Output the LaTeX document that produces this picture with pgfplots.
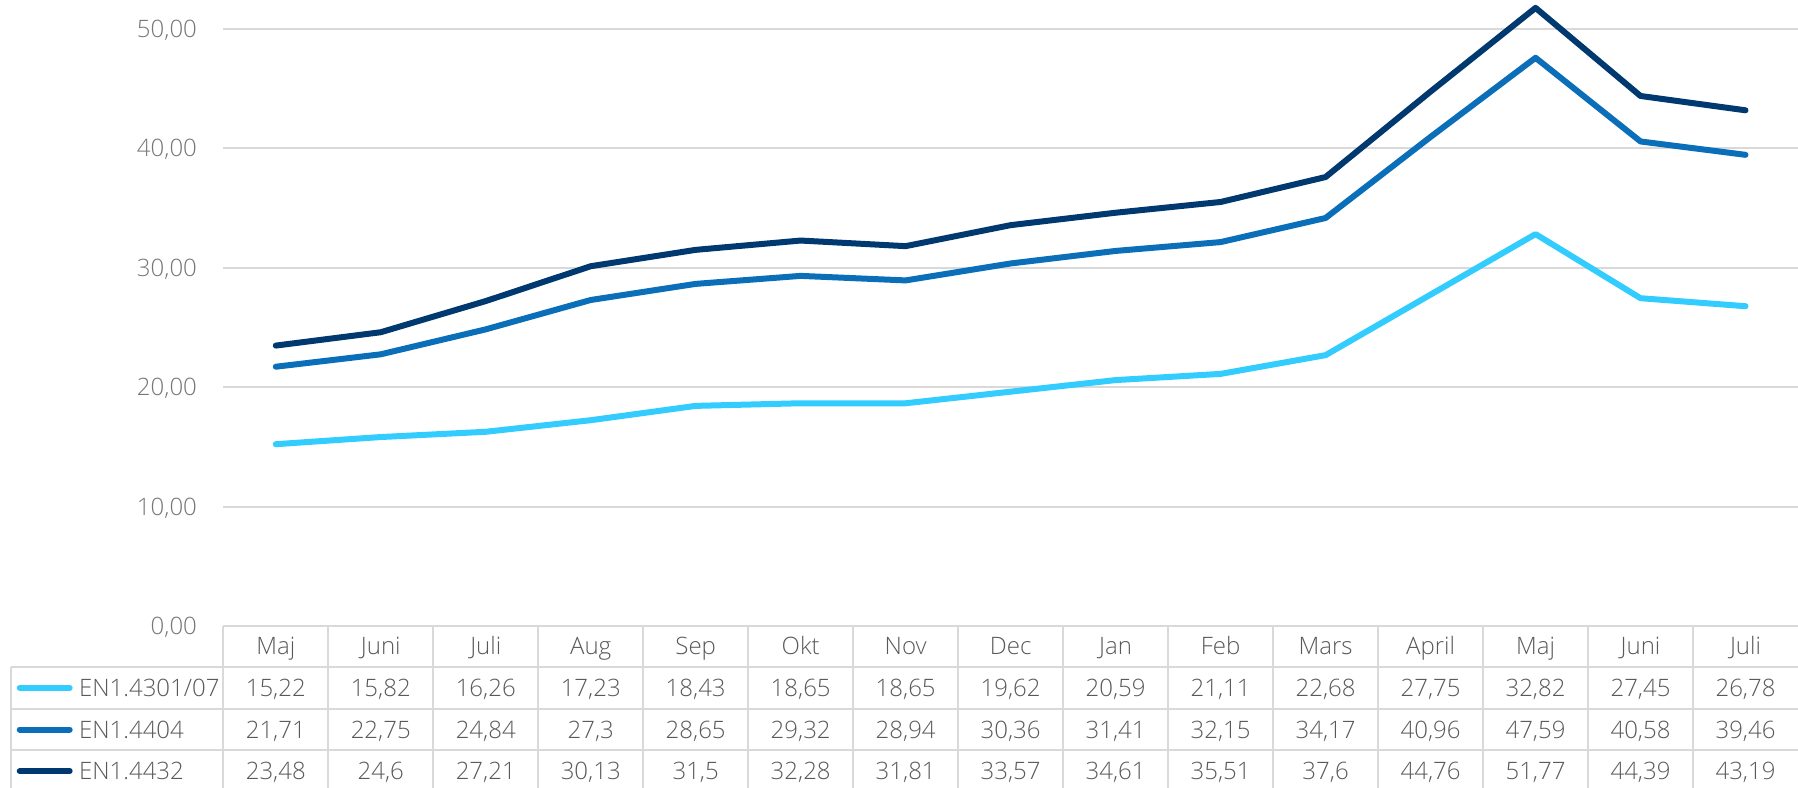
\documentclass[border=0pt]{standalone}
\usepackage{fontspec}
\setmainfont{Open Sans Light}
\usepackage{pgfplots}
\usepackage{pgfplotstable}
\pgfplotsset{compat=1.18}
\definecolor{cA}{HTML}{33CCFF}
\definecolor{cB}{HTML}{0A6EB9}
\definecolor{cC}{HTML}{003870}
\definecolor{gridc}{HTML}{D9D9D9}
\definecolor{txt}{HTML}{595959}
\definecolor{tickc}{HTML}{767676}
\pgfplotstableread{
x a b c
0 15.22 21.71 23.48
1 15.82 22.75 24.6
2 16.26 24.84 27.21
3 17.23 27.3 30.13
4 18.43 28.65 31.5
5 18.65 29.32 32.28
6 18.65 28.94 31.81
7 19.62 30.36 33.57
8 20.59 31.41 34.61
9 21.11 32.15 35.51
10 22.68 34.17 37.6
11 27.75 40.96 44.76
12 32.82 47.59 51.77
13 27.45 40.58 44.39
14 26.78 39.46 43.19
}\data
\tikzset{tbl/.style={inner sep=0pt, text height=8.57pt, text depth=0pt, font=\fontsize{12}{14}\selectfont}}
\begin{document}
\begin{tikzpicture}
\begin{axis}[
  x=52.5pt, y=5.97pt,
  xmin=-0.5, xmax=14.5, ymin=0, ymax=52.43,
  clip=false,
  axis line style={draw=none},
  tick style={draw=none},
  ytick={0,10,...,50},
  ymajorgrids, grid style={gridc, line width=1pt},
  xtick={0,...,14},
  xticklabels={Maj,Juni,Juli,Aug,Sep,Okt,Nov,Dec,Jan,Feb,Mars,April,Maj,Juni,Juli},
  xticklabel style={tbl, anchor=center, yshift=-10.15pt, text=txt},
  yticklabel style={tbl, anchor=east, xshift=-13pt, text=tickc,
    /pgf/number format/.cd, fixed, fixed zerofill, precision=2, use comma, assume math mode=true},
  every node near coord/.append style={tbl, anchor=center, text=txt,
    /pgf/number format/.cd, fixed, precision=2, use comma, assume math mode=true},
  nodes near coords align={center},
]
\addplot[cA, line width=3pt, line cap=round, line join=round] table[x=x, y=a]{\data};
\addplot[cB, line width=3pt, line cap=round, line join=round] table[x=x, y=b]{\data};
\addplot[cC, line width=3pt, line cap=round, line join=round] table[x=x, y=c]{\data};
% data table rows
\addplot[draw=none, mark=none, nodes near coords, point meta=explicit] table[x=x, y expr=-5.19, meta=a]{\data};
\addplot[draw=none, mark=none, nodes near coords, point meta=explicit] table[x=x, y expr=-8.68, meta=b]{\data};
\addplot[draw=none, mark=none, nodes near coords, point meta=explicit] table[x=x, y expr=-12.17, meta=c]{\data};
% table grid
\draw[gridc, line width=1pt] (axis cs:-2.522,-3.45) -- (axis cs:14.5,-3.45);
\draw[gridc, line width=1pt] (axis cs:-2.522,-6.94) -- (axis cs:14.5,-6.94);
\draw[gridc, line width=1pt] (axis cs:-2.522,-10.43) -- (axis cs:14.5,-10.43);
\draw[gridc, line width=1pt] (axis cs:-2.522,-3.45) -- (axis cs:-2.522,-13.6);
\pgfplotsinvokeforeach{-0.5,0.5,...,13.5}{\draw[gridc, line width=1pt] (axis cs:#1,0) -- (axis cs:#1,-13.6);}
% legend keys
\draw[cA, line width=3pt, line cap=round] (axis cs:-2.439,-5.19) -- (axis cs:-1.963,-5.19);
\draw[cB, line width=3pt, line cap=round] (axis cs:-2.439,-8.68) -- (axis cs:-1.963,-8.68);
\draw[cC, line width=3pt, line cap=round] (axis cs:-2.439,-12.17) -- (axis cs:-1.963,-12.17);
\node[tbl, anchor=west, text=txt] at (axis cs:-1.877,-5.19) {EN1.4301/07};
\node[tbl, anchor=west, text=txt] at (axis cs:-1.877,-8.68) {EN1.4404};
\node[tbl, anchor=west, text=txt] at (axis cs:-1.877,-12.17) {EN1.4432};
\coordinate (bl) at (axis cs:-2.627,-13.57);
\coordinate (tr) at (axis cs:14.5,52.43);
\end{axis}
\pgfresetboundingbox
\useasboundingbox (bl) rectangle (tr);
\end{tikzpicture}
\end{document}
